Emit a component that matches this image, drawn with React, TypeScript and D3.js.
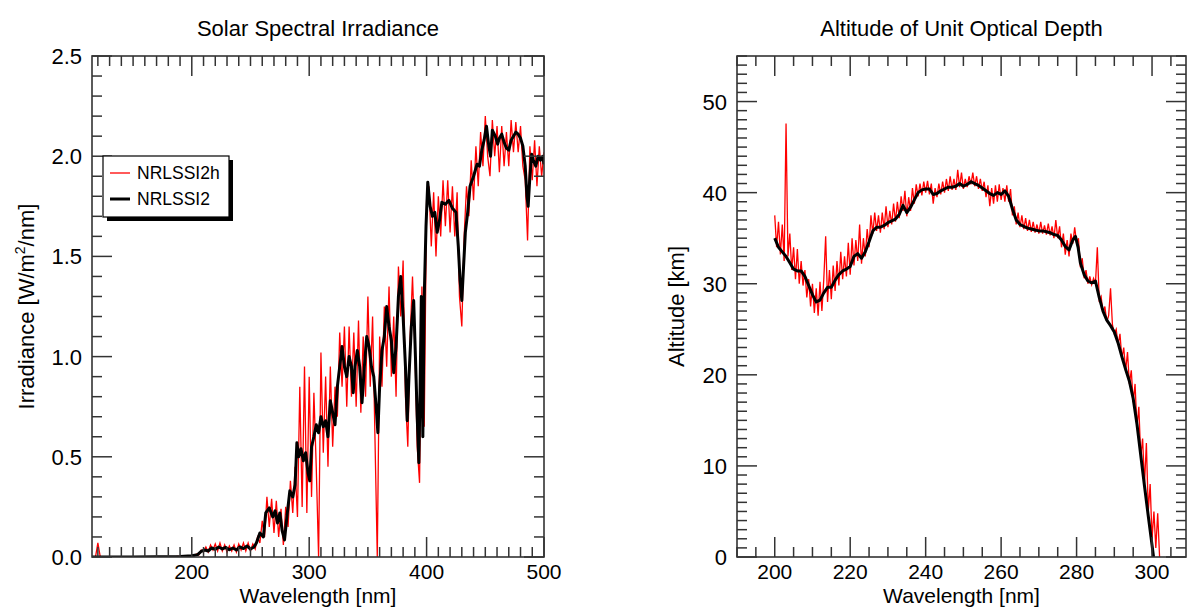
import React from "react";
import * as d3 from "d3";

// ---------- Solar Spectral Irradiance (left panel) ----------
// NRLSSI2h: high resolution, sampled every 2 nm from 116 nm
const ssiRedStart = 116;
const ssiRedStep = 2;
const ssiRed = [
  // 116-134
  0, 0.001, 0.07, 0.002, 0, 0, 0, 0, 0, 0,
  // 136-154
  0, 0, 0, 0, 0, 0, 0, 0, 0, 0,
  // 156-174
  0, 0, 0, 0, 0, 0, 0.001, 0, 0.001, 0.001,
  // 176-194
  0.001, 0.001, 0.002, 0.001, 0.002, 0.002, 0.003, 0.002, 0.003, 0.003,
  // 196-198
  0.004, 0.006,
  // 200-218
  0.008, 0.004, 0.015, 0.01, 0.035, 0.025, 0.05, 0.025, 0.06, 0.035,
  // 220-238
  0.065, 0.03, 0.07, 0.03, 0.06, 0.025, 0.055, 0.03, 0.06, 0.025,
  // 240-258
  0.065, 0.035, 0.07, 0.03, 0.07, 0.03, 0.065, 0.04, 0.1, 0.07,
  // 260-278
  0.18, 0.1, 0.3, 0.15, 0.29, 0.12, 0.28, 0.1, 0.24, 0.06,
  // 280-298
  0.25, 0.15, 0.38, 0.22, 0.45, 0.2, 0.85, 0.25, 0.95, 0.22,
  // 300-318
  0.9, 0.3, 0.82, 0.45, 0.0, 1.02, 0.52, 0.9, 0.45, 0.95,
  // 320-338
  0.55, 0.85, 0.7, 1.12, 0.85, 1.15, 0.75, 1.15, 0.8, 1.12,
  // 340-358
  0.75, 1.18, 0.72, 1.1, 0.8, 1.3, 0.85, 1.2, 0.6, 0.0,
  // 360-378
  1.1, 0.85, 1.25, 0.95, 1.35, 0.9, 1.2, 0.8, 1.45, 1.2,
  // 380-398
  1.48, 0.8, 0.55, 1.1, 1.4, 1.05, 0.55, 0.37, 1.35, 0.65,
  // 400-418
  1.78, 1.85, 1.55, 1.82, 1.5, 1.8, 1.6, 1.88, 1.65, 1.88,
  // 420-438
  1.62, 1.85, 1.6, 1.82, 1.3, 1.15, 1.6, 1.85, 1.7, 1.98,
  // 440-458
  1.78, 2.05, 1.85, 2.12, 1.95, 2.2, 2.0, 1.9, 2.18, 2.0,
  // 460-478
  2.15, 1.92, 2.15, 1.95, 2.12, 1.95, 2.18, 2.02, 2.17, 2.02,
  // 480-498
  2.15, 1.95, 1.88, 1.58, 2.05, 1.88, 2.08, 1.85, 2.05, 1.9,
  // 500
  2.02,
];

// NRLSSI2: smoother
const ssiBlackWl = [
  115, 130, 150, 170, 190, 200, 205, 208, 211, 214, 217, 220, 223, 226, 229, 232, 235, 238, 241, 244,
  247, 250, 253, 255, 258, 261, 263, 266, 269, 271, 273, 275, 277, 279, 281, 283.5, 286, 288, 289.5, 291,
  293, 295, 297, 299, 300.5, 302, 304, 306, 308, 310, 312, 314, 316, 318, 320, 322, 324, 326, 328, 330,
  332, 334, 336, 337.5, 339, 341, 343, 345, 347, 349, 351, 353, 355, 357, 358.5, 360, 362, 364, 366, 368,
  370, 372, 374, 376, 378, 380, 382, 383.5, 385, 387, 389, 390.5, 392, 393.4, 394.5, 395.5, 396.8, 398, 399.5, 401,
  403, 405, 407, 409, 411, 413, 416, 419, 422, 425, 427, 428.5, 430, 431.5, 433, 435, 437, 440, 443, 445,
  447, 449, 451, 453, 454.5, 456, 458.5, 460.5, 462, 464, 466, 468, 470, 472, 474, 476, 478, 480, 482, 484,
  485.5, 486.5, 488, 489.5, 491, 493, 495, 497, 499, 500,
];
const ssiBlackVal = [
  0, 0, 0, 0.001, 0.003, 0.006, 0.012, 0.028, 0.035, 0.03, 0.045, 0.038, 0.05, 0.04, 0.048, 0.036, 0.045, 0.035, 0.05, 0.042,
  0.055, 0.04, 0.05, 0.07, 0.12, 0.1, 0.22, 0.245, 0.2, 0.23, 0.17, 0.22, 0.13, 0.085, 0.2, 0.33, 0.3, 0.36, 0.57, 0.5,
  0.54, 0.48, 0.52, 0.42, 0.38, 0.55, 0.6, 0.66, 0.62, 0.7, 0.65, 0.68, 0.6, 0.78, 0.72, 0.66, 0.85, 0.95, 1.05, 0.95,
  0.9, 1.0, 0.95, 0.82, 0.95, 1.03, 0.95, 0.77, 0.95, 1.1, 1.05, 0.95, 0.9, 0.75, 0.62, 0.85, 1.03, 1.1, 1.25, 1.15,
  1.08, 0.92, 1.05, 1.3, 1.4, 1.2, 0.95, 0.68, 0.9, 1.15, 1.28, 1.0, 0.7, 0.47, 0.85, 1.3, 0.6, 1.3, 1.65, 1.87,
  1.75, 1.7, 1.72, 1.62, 1.68, 1.77, 1.76, 1.78, 1.74, 1.72, 1.55, 1.38, 1.28, 1.45, 1.62, 1.72, 1.85, 1.9, 1.96, 1.95,
  2.03, 2.08, 2.15, 2.05, 2.0, 2.13, 2.1, 2.06, 2.09, 2.11, 2.07, 2.04, 2.03, 2.08, 2.1, 2.12, 2.11, 2.09, 2.05, 1.95,
  1.8, 1.75, 1.9, 2.01, 1.98, 1.95, 2.0, 1.98, 2.0, 1.96,
];

// ---------- Altitude of Unit Optical Depth (right panel) ----------
const altRedStart = 200;
const altRedStep = 0.5;
const altRed = [
  // 200-204.5
  37.5, 34.0, 36.8, 33.2, 36.5, 32.5, 47.6, 33.0, 35.5, 31.5,
  // 205-209.5
  34.0, 30.5, 33.8, 30.0, 32.5, 29.8, 31.5, 28.5, 30.5, 27.5,
  // 210-214.5
  30.0, 26.8, 29.5, 26.5, 30.2, 27.0, 30.5, 35.2, 28.0, 31.5,
  // 215-219.5
  28.3, 32.0, 29.2, 32.5, 29.8, 33.5, 30.5, 33.0, 30.8, 34.5,
  // 220-224.5
  31.0, 35.0, 32.0, 34.8, 32.5, 36.5, 32.2, 35.0, 33.0, 36.0,
  // 225-229.5
  34.0, 37.5, 35.5, 37.8, 35.8, 37.5, 35.6, 37.8, 36.0, 38.5,
  // 230-234.5
  36.2, 38.0, 36.5, 38.8, 36.8, 39.0, 37.2, 39.6, 38.0, 40.2,
  // 235-239.5
  37.4, 39.5, 38.0, 40.5, 38.8, 40.9, 39.6, 41.0, 39.7, 41.2,
  // 240-244.5
  40.0, 41.3, 39.8, 41.0, 38.8, 40.5, 39.5, 41.0, 39.8, 41.2,
  // 245-249.5
  40.0, 41.5, 40.2, 41.8, 40.3, 41.5, 40.3, 42.5, 40.6, 42.2,
  // 250-254.5
  40.4, 41.5, 40.6, 41.8, 40.9, 42.2, 40.7, 41.8, 40.4, 41.5,
  // 255-259.5
  40.2, 41.2, 39.5, 40.8, 38.5, 40.5, 38.8, 40.8, 39.0, 40.9,
  // 260-264.5
  39.2, 40.5, 39.0, 40.8, 39.0, 40.4, 37.5, 38.5, 36.5, 37.8,
  // 265-269.5
  36.2, 37.5, 36.0, 37.2, 35.8, 37.0, 35.7, 36.8, 35.6, 36.5,
  // 270-274.5
  35.5, 36.8, 35.5, 36.4, 35.4, 36.6, 35.3, 36.3, 35.0, 37.0,
  // 275-279.5
  35.0, 36.3, 34.0, 35.5, 33.2, 34.8, 33.0, 35.5, 34.4, 36.2,
  // 280-284.5
  34.5, 35.0, 31.8, 32.8, 30.6, 31.5, 30.0, 30.8, 29.9, 30.6,
  // 285-289.5
  30.0, 34.0, 28.2, 28.6, 26.8, 27.5, 25.8, 26.5, 29.5, 25.5,
  // 290-294.5
  24.5, 25.0, 23.3, 24.5, 21.8, 23.0, 20.4, 22.5, 19.0, 20.5,
  // 295-299.5
  17.0, 19.0, 14.2, 16.5, 11.0, 13.0, 8.0, 12.5, 5.0, 8.0,
  // 300-302
  2.0, 5.0, 1.0, 4.8, 0.0,
];

const altBlackWl = [
  200, 201, 202, 203, 204, 205, 206, 207, 208, 209, 210, 211, 212, 213, 214, 215, 216, 217, 218, 219,
  220, 221, 222, 223, 224, 225, 226, 227, 228, 229, 230, 231, 232, 233, 234, 235, 236, 237, 238, 239,
  240, 241, 242, 243, 244, 245, 246, 247, 248, 249, 250, 251, 252, 253, 254, 255, 256, 257, 258, 259,
  260, 261, 262, 263, 264, 265, 266, 267, 268, 269, 270, 271, 272, 273, 274, 275, 276, 277, 278, 279,
  279.7, 280.4, 281, 282, 283, 284, 285, 286, 287, 288, 289, 290, 291, 292, 293, 294, 295, 296, 297, 298,
  299, 300, 300.4,
];
const altBlackVal = [
  35.0, 34.0, 33.5, 33.0, 32.3, 31.6, 31.4, 31.4, 30.8, 29.8, 28.8, 28.0, 28.2, 29.0, 29.6, 29.6, 30.4, 31.0, 31.4, 31.6,
  31.9, 33.0, 33.3, 32.8, 33.5, 34.6, 35.8, 36.2, 36.2, 36.4, 36.7, 36.9, 37.1, 37.6, 38.6, 37.8, 38.4, 39.2, 40.0, 40.3,
  40.4, 40.4, 39.8, 39.9, 40.2, 40.4, 40.6, 40.6, 40.7, 41.0, 40.7, 40.9, 41.2, 41.0, 40.8, 40.5, 40.2, 39.9, 39.7, 40.0,
  39.8, 40.2, 39.6, 38.2, 37.0, 36.5, 36.3, 36.1, 36.0, 35.9, 35.8, 35.8, 35.7, 35.6, 35.4, 35.3, 34.8, 34.1, 33.7, 34.8,
  35.2, 34.0, 32.3, 31.0, 30.3, 30.1, 30.3, 28.5, 27.0, 26.0, 25.4, 24.7, 23.5, 22.0, 20.6, 19.3, 17.4, 14.6, 11.2, 7.8,
  4.5, 1.3, 0,
];

const FONT = "'Liberation Sans', Arial, Helvetica, sans-serif";
const AXIS = "#333";
const FS = 22;
const FS_X = 21;

type Pt = [number, number];

type PanelProps = {
  id: string;
  left: number; right: number; top: number; bottom: number;
  xDomain: [number, number]; yDomain: [number, number];
  xMinor: number; xMajor: number; xLabels: number[];
  yMinor: number; yMajor: number; yLabels: number[];
  yFmt: (v: number) => string;
  title: string; xTitle: string; yTitle: React.ReactNode; yTitleX: number;
  red: Pt[]; black: Pt[];
  children?: React.ReactNode;
};

function tickVals(d: [number, number], step: number) {
  const start = Math.ceil(d[0] / step - 1e-9) * step;
  return d3.range(start, d[1] + 1e-9, step);
}
const isMajor = (v: number, major: number) => Math.abs(v / major - Math.round(v / major)) < 1e-6;

function Panel(p: PanelProps) {
  const x = d3.scaleLinear().domain(p.xDomain).range([p.left, p.right]);
  const y = d3.scaleLinear().domain(p.yDomain).range([p.bottom, p.top]);
  const line = d3.line<Pt>().x(d => x(d[0])).y(d => y(d[1]));
  const cx = (p.left + p.right) / 2;
  const cy = (p.top + p.bottom) / 2;

  const xt = tickVals(p.xDomain, p.xMinor);
  const yt = tickVals(p.yDomain, p.yMinor);

  return (
    <g>
      <defs>
        <clipPath id={p.id}>
          <rect x={p.left} y={p.top} width={p.right - p.left} height={p.bottom - p.top} />
        </clipPath>
      </defs>
      <g clipPath={`url(#${p.id})`}>
        <path d={line(p.red) || ""} fill="none" stroke="#ff0000" strokeWidth={1.3} />
        <path d={line(p.black) || ""} fill="none" stroke="#000" strokeWidth={3} strokeLinejoin="round" />
      </g>
      {/* ticks on all four sides, pointing inward */}
      <g stroke={AXIS} strokeWidth={1.5}>
        {xt.map(v => {
          const len = isMajor(v, p.xMajor) ? 20 : 10;
          return (
            <g key={"x" + v}>
              <line x1={x(v)} x2={x(v)} y1={p.bottom} y2={p.bottom - len} />
              <line x1={x(v)} x2={x(v)} y1={p.top} y2={p.top + len} />
            </g>
          );
        })}
        {yt.map(v => {
          const len = isMajor(v, p.yMajor) ? 20 : 10;
          return (
            <g key={"y" + v}>
              <line x1={p.left} x2={p.left + len} y1={y(v)} y2={y(v)} />
              <line x1={p.right} x2={p.right - len} y1={y(v)} y2={y(v)} />
            </g>
          );
        })}
      </g>
      <rect x={p.left} y={p.top} width={p.right - p.left} height={p.bottom - p.top}
        fill="none" stroke={AXIS} strokeWidth={1.6} />
      <g fontFamily={FONT} fontSize={FS} fill="#000">
        {p.xLabels.map(v => (
          <text key={"xl" + v} x={x(v)} y={p.bottom + 22} textAnchor="middle" fontSize={FS_X}>{v}</text>
        ))}
        {p.yLabels.map(v => (
          <text key={"yl" + v} x={p.left - 10} y={y(v) + 8} textAnchor="end">{p.yFmt(v)}</text>
        ))}
        <text x={cx} y={p.bottom + 46} textAnchor="middle" fontSize={FS_X}>{p.xTitle}</text>
        <text x={cx} y={36} textAnchor="middle">{p.title}</text>
        <text transform={`translate(${p.yTitleX},${cy}) rotate(-90)`} textAnchor="middle">{p.yTitle}</text>
      </g>
      {p.children}
    </g>
  );
}

export default function App() {
  const ssiRedPts: Pt[] = ssiRed.map((v, i) => [ssiRedStart + i * ssiRedStep, v]);
  const ssiBlackPts: Pt[] = ssiBlackWl.map((w, i) => [w, ssiBlackVal[i]]);
  const altRedPts: Pt[] = altRed.map((v, i) => [altRedStart + i * altRedStep, v]);
  const altBlackPts: Pt[] = altBlackWl.map((w, i) => [w, altBlackVal[i]]);

  return (
    <svg width={1187} height={608} style={{ position: "absolute", left: 0, top: 0, background: "#fff" }}>
      <rect width={1187} height={608} fill="#fff" />
      <Panel
        id="clipL" left={92} right={544} top={56} bottom={557}
        xDomain={[115, 500]} yDomain={[0, 2.5]}
        xMinor={10} xMajor={100} xLabels={[200, 300, 400, 500]}
        yMinor={0.1} yMajor={0.5} yLabels={[0, 0.5, 1, 1.5, 2, 2.5]}
        yFmt={v => v.toFixed(1)}
        title="Solar Spectral Irradiance" xTitle="Wavelength [nm]"
        yTitle={<>Irradiance [W/m<tspan dy={-9} fontSize={14}>2</tspan><tspan dy={9}>/nm]</tspan></>}
        yTitleX={34}
        red={ssiRedPts} black={ssiBlackPts}
      >
        <g>
          <rect x={107} y={160} width={126} height={61} fill="#000" />
          <rect x={103} y={156} width={126} height={61} fill="#fff" stroke="#000" strokeWidth={1.2} />
          <line x1={110} x2={130} y1={173} y2={173} stroke="#ff0000" strokeWidth={1.3} />
          <line x1={110} x2={130} y1={199} y2={199} stroke="#000" strokeWidth={3} />
          <text x={137} y={179} fontFamily={FONT} fontSize={17.5}>NRLSSI2h</text>
          <text x={137} y={205} fontFamily={FONT} fontSize={17.5}>NRLSSI2</text>
        </g>
      </Panel>
      <Panel
        id="clipR" left={737} right={1186} top={56} bottom={557}
        xDomain={[190, 309]} yDomain={[0, 55]}
        xMinor={5} xMajor={20} xLabels={[200, 220, 240, 260, 280, 300]}
        yMinor={1} yMajor={10} yLabels={[0, 10, 20, 30, 40, 50]}
        yFmt={v => String(v)}
        title="Altitude of Unit Optical Depth" xTitle="Wavelength [nm]"
        yTitle="Altitude [km]" yTitleX={684}
        red={altRedPts} black={altBlackPts}
      />
    </svg>
  );
}
